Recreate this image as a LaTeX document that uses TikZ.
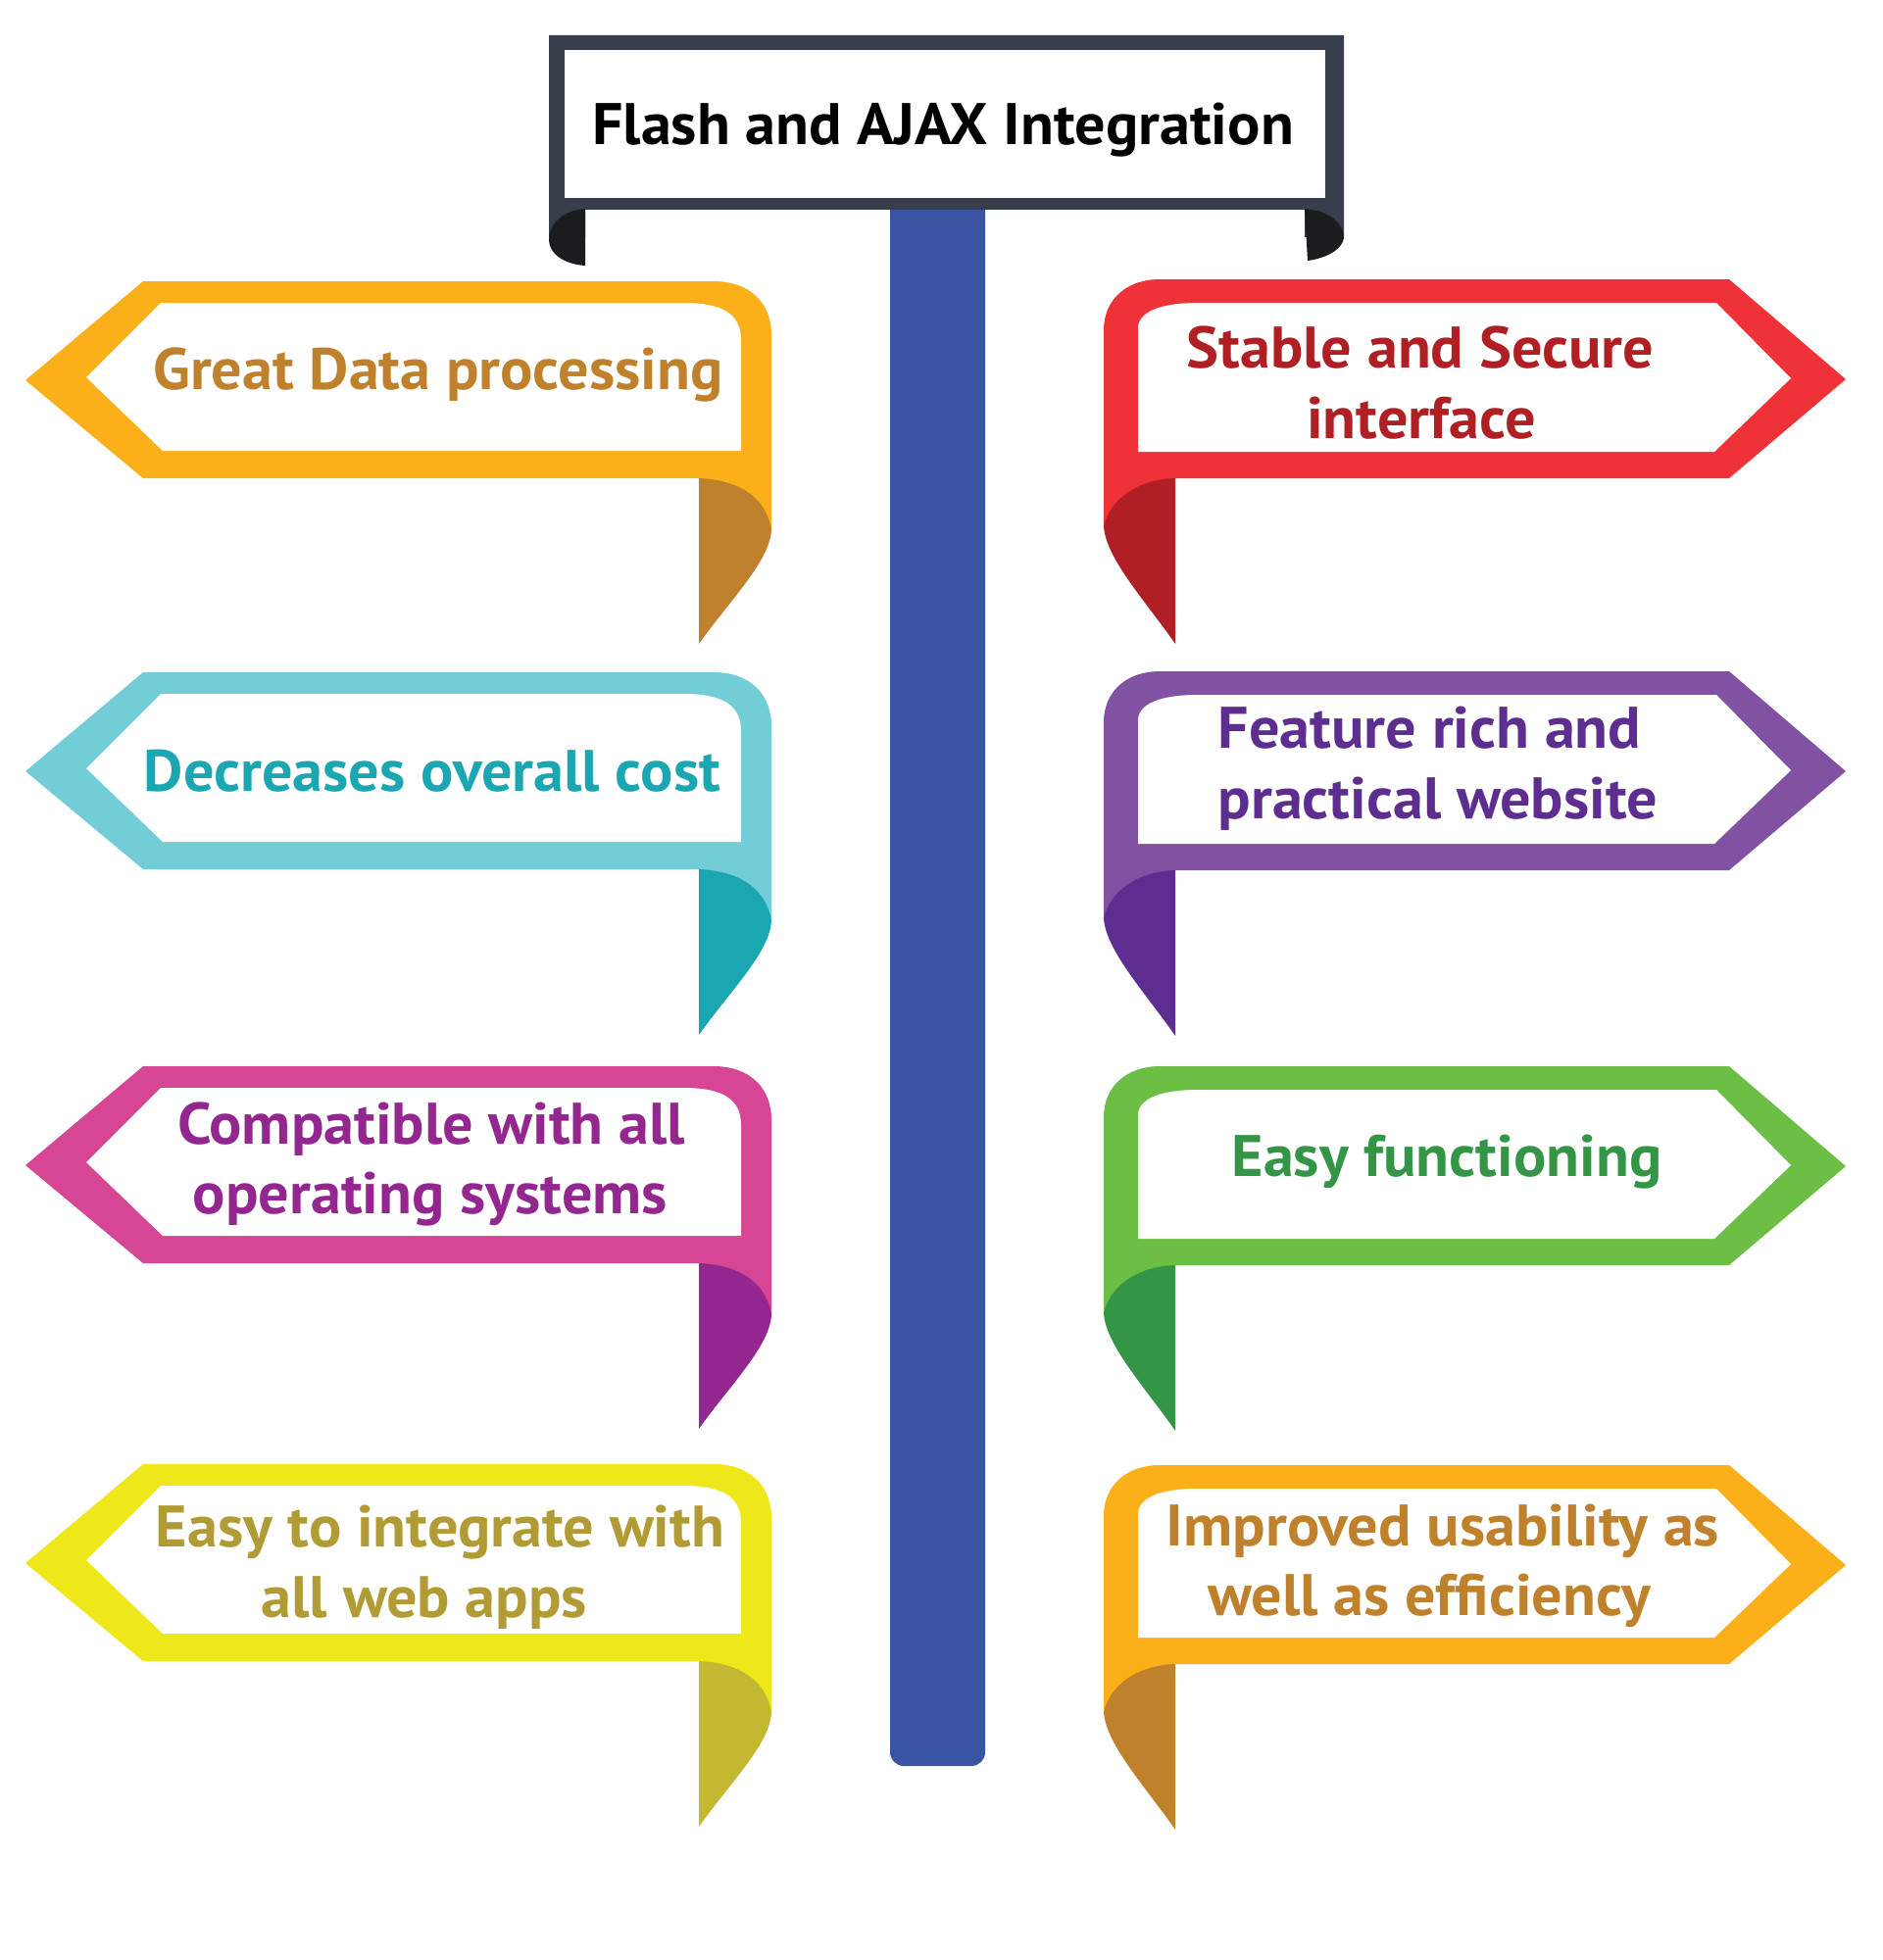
\documentclass[tikz,border=0pt]{standalone}
\usepackage{fontspec}
\setmainfont{PT Sans}[FakeStretch=1.04]
\definecolor{framec}{HTML}{363F4B}
\definecolor{curlc}{HTML}{1A1C1E}
\definecolor{polec}{HTML}{3A54A4}
\definecolor{orgband}{HTML}{FBB01A}
\definecolor{orgdark}{HTML}{C0812C}
\definecolor{redband}{HTML}{EE3237}
\definecolor{reddark}{HTML}{B01F24}
\definecolor{tealband}{HTML}{73CDD7}
\definecolor{tealdark}{HTML}{1AA7B2}
\definecolor{purband}{HTML}{8052A1}
\definecolor{purdark}{HTML}{5D2E8F}
\definecolor{magband}{HTML}{D64695}
\definecolor{magdark}{HTML}{93278F}
\definecolor{grnband}{HTML}{6DBE45}
\definecolor{grndark}{HTML}{349546}
\definecolor{yelband}{HTML}{EEE81B}
\definecolor{yeldark}{HTML}{C4B731}
\definecolor{yeltext}{HTML}{B19B35}
\tikzset{
  lbl/.style={font=\fontsize{17}{20}\selectfont\bfseries, inner sep=0pt, anchor=base},
  lbllft/.style={lbl, anchor=base west}
}
% left-pointing banner: #1 top y, #2 band colour, #3 tail colour
\newcommand\LeftBanner[3]{%
  \begin{scope}[shift={(0,#1)}]
    \fill[#2] (146,0) -- (728,0) .. controls (765,0) and (787,22) .. (787,55)
      -- (787,253) -- (713,201) -- (146,201) -- (26,101) -- cycle;
    \fill[white] (164,22) -- (697,22) .. controls (738,22) and (756,34) .. (756,60)
      -- (756,173) -- (166,173) -- (88,98) -- cycle;
    \fill[#3] (713,201) .. controls (760,203) and (782,225) .. (787,253)
      .. controls (786,285) and (745,325) .. (713,370) -- cycle;
  \end{scope}}
% right-pointing banner
\newcommand\RightBanner[3]{%
  \begin{scope}[shift={(0,#1)}]
    \fill[#2] (1183,0) -- (1764,0) -- (1883,102) -- (1764,203) -- (1199,203)
      -- (1126,253) -- (1126,52) .. controls (1126,20) and (1150,0) .. (1183,0) -- cycle;
    \fill[white] (1222,24) -- (1751,24) -- (1827,101) -- (1749,176) -- (1161,176)
      -- (1161,50) .. controls (1161,34) and (1182,24) .. (1222,24) -- cycle;
    \fill[#3] (1199,203) .. controls (1160,204) and (1132,225) .. (1126,252)
      .. controls (1128,285) and (1170,330) .. (1199,372) -- cycle;
  \end{scope}}
\begin{document}
\begin{tikzpicture}[x=0.01cm,y=-0.01cm]
\useasboundingbox (0,0) rectangle (1920,2000);
% pole
\fill[polec, rounded corners=4pt] (908,200) -- (908,1802) -- (1005,1802) -- (1005,200) -- cycle;
% title sign
\fill[framec] (560,36) -- (1371,36) -- (1371,242) -- (1331,242) -- (1331,214)
  -- (597,214) -- (597,242) -- (560,242) -- cycle;
\fill[white] (576,51) rectangle (1352,202);
\fill[curlc] (597,213) .. controls (572,215) and (560,230) .. (560,245)
  .. controls (561,262) and (580,270) .. (597,271) -- cycle;
\fill[curlc] (1331,213) .. controls (1356,215) and (1371,228) .. (1371,243)
  .. controls (1369,256) and (1350,264) .. (1334,266) -- cycle;
\node[lbl, text=black] (title) at (962,148) {Flash and AJAX Integration};
% banners
\LeftBanner{287}{orgband}{orgdark}
\LeftBanner{686}{tealband}{tealdark}
\LeftBanner{1088}{magband}{magdark}
\LeftBanner{1494}{yelband}{yeldark}
\RightBanner{285}{redband}{reddark}
\RightBanner{685}{purband}{purdark}
\RightBanner{1088}{grnband}{grndark}
\RightBanner{1495}{orgband}{orgdark}
% texts
\node[lbl, text=orgdark] (l1) at (447,397) {Great Data processing};
\node[lbl, text=tealdark] (l2) at (441,807) {Decreases overall cost};
\node[lbl, text=magdark] (l3a) at (440,1167) {Compatible with all};
\node[lbl, text=magdark] (l3b) at (439,1238) {operating systems};
\node[lbl, text=yeltext] (l4a) at (449,1578) {Easy to integrate with};
\node[lbl, text=yeltext] (l4b) at (433,1650) {all web apps};
\node[lbl, text=reddark] (r1a) at (1449,375) {Stable and Secure};
\node[lbl, text=reddark] (r1b) at (1450,447) {interface};
\node[lbllft, text=purdark] (r2a) at (1242,763) {Feature rich and};
\node[lbllft, text=purdark] (r2b) at (1242,835) {practical website};
\node[lbl, text=grndark] (r3) at (1476,1200) {Easy functioning};
\node[lbl, text=orgdark] (r4a) at (1472,1577) {Improved usability as};
\node[lbl, text=orgdark] (r4b) at (1458,1648) {well as efficiency};
\end{tikzpicture}
\end{document}
